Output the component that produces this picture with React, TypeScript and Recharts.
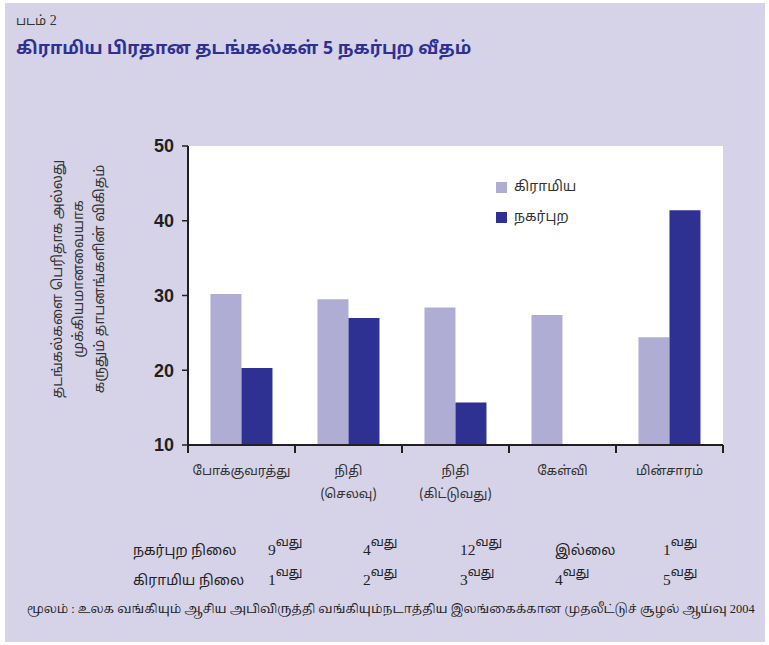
import React from 'react'
import { BarChart, Bar, XAxis, YAxis, CartesianGrid, Legend } from 'recharts'

const categories = ['போக்குவரத்து', 'நிதி (செலவு)', 'நிதி (கிட்டுவது)', 'கேள்வி', 'மின்சாரம்']
const rural = [30.2, 29.5, 28.4, 27.4, 24.4]
const urban: (number | null)[] = [20.3, 27.0, 15.7, null, 41.4]
const yTicks = [10, 20, 30, 40, 50]
const urbanRank = ['9', '4', '12', '', '1']
const ruralRank = ['1', '2', '3', '4', '5']
const yLabelLines = ['தடங்கல்களை பெரிதாக அல்லது', 'முக்கியமானவையாக', 'கருதும் தாபனங்களின் விகிதம்']

const data = categories.map((c, i) => ({ name: c, rural: rural[i], urban: urban[i] }))

const TAMIL = "'Noto Sans Tamil', 'Lohit Tamil', 'Noto Serif Tamil', 'Liberation Sans', sans-serif"
const SERIF = "'Liberation Serif', 'Noto Serif Tamil', 'Noto Sans Tamil', serif"
const BG = '#d6d3e9'
const LIGHT = '#b0add5'
const DARK = '#2e3192'
const INK = '#231f20'
const HALF_BAND = 53.5

const XTick = (props: any) => {
  const { x, y, payload, index } = props
  const lines = String(payload.value).split(' ')
  return (
    <g>
      <line x1={x - HALF_BAND} x2={x - HALF_BAND} y1={y - 8} y2={y} stroke={INK} strokeWidth={2} />
      {index === categories.length - 1 && (
        <line x1={x + HALF_BAND} x2={x + HALF_BAND} y1={y - 8} y2={y} stroke={INK} strokeWidth={2} />
      )}
      {lines.map((l, i) => (
        <text key={i} x={x} y={y + 22 + i * 23} textAnchor="middle" fontSize={13} fill="#333" fontFamily={TAMIL}>
          {l}
        </text>
      ))}
    </g>
  )
}

const YLabel = () => (
  <g>
    {yLabelLines.map((l, i) => {
      const cx = 58 + i * 21
      return (
        <text key={i} x={cx} y={279} transform={`rotate(-90 ${cx} 279)`} textAnchor="middle"
          dominantBaseline="central" fontSize={14} fill="#333" fontFamily={TAMIL}>
          {l}
        </text>
      )
    })}
  </g>
)

const LegendBox = ({ payload }: any) => (
  <div style={{ fontFamily: TAMIL, fontSize: 14, color: '#333' }}>
    {(payload || []).map((p: any, i: number) => (
      <div key={i} style={{ display: 'flex', alignItems: 'center', height: 30 }}>
        <span style={{ width: 11, height: 11, background: p.color, marginRight: 7 }} />
        {p.value}
      </div>
    ))}
  </div>
)

export default function App() {
  const cols = [268, 363, 460, 555, 663]
  const rows = [
    { label: 'நகர்புற நிலை', vals: urbanRank, base: 555 },
    { label: 'கிராமிய நிலை', vals: ruralRank, base: 585 },
  ]
  return (
    <div style={{ position: 'absolute', left: 0, top: 0, width: 769, height: 645, background: '#fff' }}>
      <div style={{ position: 'absolute', left: 5, top: 3, width: 760, height: 639, background: BG }} />
      <div style={{ position: 'absolute', left: 16, top: 13, fontFamily: TAMIL, fontSize: 13, color: '#333' }}>
        படம் <span style={{ fontFamily: SERIF, fontSize: 14 }}>2</span>
      </div>
      <div style={{ position: 'absolute', left: 16, top: 39, fontFamily: TAMIL, fontSize: 17.7, fontWeight: 700, color: DARK, whiteSpace: 'nowrap' }}>
        கிராமிய பிரதான தடங்கல்கள் 5 நகர்புற வீதம்
      </div>
      <div style={{ position: 'absolute', left: 0, top: 0 }}>
        <BarChart width={769} height={645} data={data} margin={{ top: 146, right: 46, bottom: 140, left: 0 }}
          barCategoryGap="21%" barGap={0}>
          <CartesianGrid horizontal={false} vertical={false} fill="#fff" stroke="none" />
          <XAxis dataKey="name" height={60} axisLine={{ stroke: INK, strokeWidth: 2 }} tickLine={false}
            tick={<XTick />} interval={0} />
          <YAxis width={188} domain={[10, 50]} ticks={yTicks} allowDataOverflow
            axisLine={{ stroke: INK, strokeWidth: 2 }} tickLine={{ stroke: INK, strokeWidth: 1.5 }} tickSize={6} tickMargin={8}
            tick={{ fill: INK, fontSize: 18, fontWeight: 700, fontFamily: "'Liberation Sans Narrow', 'Liberation Sans', sans-serif" }}
            label={{ content: () => <YLabel /> }} />
          <Legend layout="horizontal" verticalAlign="middle" align="center" content={<LegendBox />}
            wrapperStyle={{ position: 'absolute', left: 496, top: 172, width: 120 }} />
          <Bar dataKey="rural" name="கிராமிய" fill={LIGHT} isAnimationActive={false} />
          <Bar dataKey="urban" name="நகர்புற" fill={DARK} isAnimationActive={false} />
        </BarChart>
      </div>
      <svg width={769} height={645} style={{ position: 'absolute', left: 0, top: 0 }}>
        {rows.map((row, r) => (
          <g key={r} fill="#222">
            <text x={133} y={row.base} fontFamily={TAMIL} fontSize={14}>{row.label}</text>
            {row.vals.map((v, i) =>
              v ? (
                <text key={i} x={cols[i]} y={row.base} fontFamily={SERIF} fontSize={15.5}>
                  {v}
                  <tspan dx={0} dy={-9} fontFamily={TAMIL} fontSize={12.5}>வது</tspan>
                </text>
              ) : (
                <text key={i} x={cols[i]} y={row.base} fontFamily={TAMIL} fontSize={14}>இல்லை</text>
              )
            )}
          </g>
        ))}
      </svg>
      <div style={{ position: 'absolute', left: 27, top: 600, fontFamily: SERIF, fontSize: 12.4, color: '#222', whiteSpace: 'nowrap' }}>
        மூலம் : உலக வங்கியும் ஆசிய அபிவிருத்தி வங்கியும்நடாத்திய இலங்கைக்கான முதலீட்டுச் சூழல் ஆய்வு 2004
      </div>
    </div>
  )
}
